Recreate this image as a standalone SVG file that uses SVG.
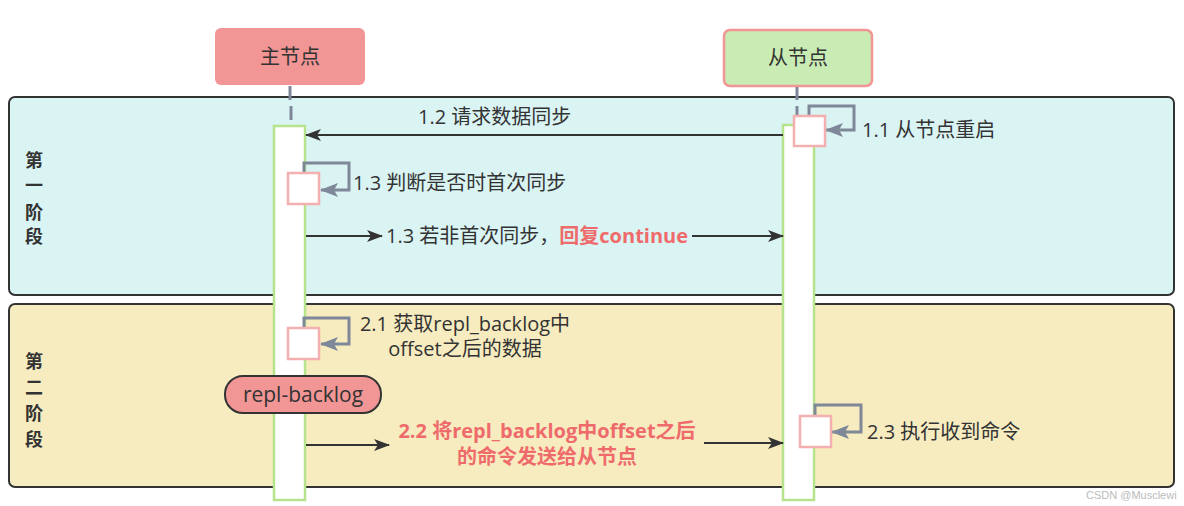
<svg xmlns="http://www.w3.org/2000/svg" width="1184" height="506" viewBox="0 0 1184 506">
<style>
text{font-family:"Open Sans","Noto Sans CJK SC",sans-serif;fill:#333;font-size:20px}
.ph{font-family:"Noto Sans CJK SC",sans-serif;font-weight:bold;font-size:18px;text-anchor:middle}
.red{fill:#ef6b6b;font-weight:bold}
.bar{fill:#fff;stroke:#b5e48c;stroke-width:2.5}
.self{fill:#fff;stroke:#f4b0b0;stroke-width:2.5}
.loop{fill:none;stroke:#7f8898;stroke-width:3}
.msg{fill:none;stroke:#333;stroke-width:2}
.life{stroke:#7f8898;stroke-width:3}
</style>
<defs>
<marker id="ah" markerWidth="16" markerHeight="12" refX="15" refY="6" orient="auto" markerUnits="userSpaceOnUse"><path d="M0,0 L16,6 L0,12 L4,6 Z" fill="#333"/></marker>
<marker id="gh" markerWidth="18" markerHeight="14" refX="17" refY="7" orient="auto" markerUnits="userSpaceOnUse"><path d="M0,0 L18,7 L0,14 L4,7 Z" fill="#7f8898"/></marker>
</defs>
<g id="phase1">
<rect x="9" y="97" width="1165" height="198" rx="6" fill="#daf3f3" stroke="#333" stroke-width="2"/>
<text class="ph"><tspan x="34" y="167">第</tspan><tspan x="34" y="192">一</tspan><tspan x="34" y="219">阶</tspan><tspan x="34" y="243">段</tspan></text>
</g>
<g id="phase2">
<rect x="9" y="304" width="1165" height="183" rx="6" fill="#f6ecc0" stroke="#333" stroke-width="2"/>
<text class="ph"><tspan x="34" y="368">第</tspan><tspan x="34" y="394">二</tspan><tspan x="34" y="420">阶</tspan><tspan x="34" y="446">段</tspan></text>
</g>
<g id="master">
<rect x="215" y="28" width="150" height="57" rx="6" fill="#f19595"/>
<text x="290" y="64" text-anchor="middle">主节点</text>
</g>
<g id="slave">
<rect x="724" y="30" width="148" height="56" rx="6" fill="#c9ecb4" stroke="#f19595" stroke-width="2.5"/>
<text x="798" y="65" text-anchor="middle">从节点</text>
</g>
<g id="lifelines">
<line class="life" x1="290" y1="86" x2="290" y2="100"/><line class="life" x1="291" y1="106" x2="291" y2="120"/>
<line class="life" x1="797" y1="87" x2="797" y2="100"/><line class="life" x1="797" y1="106" x2="797" y2="118"/>
</g>
<g id="master-bar"><rect class="bar" x="274" y="126" width="31" height="374"/></g>
<g id="slave-bar"><rect class="bar" x="783" y="125" width="31" height="375"/></g>
<g id="connectors">
<line class="msg" x1="783" y1="135" x2="306" y2="135" marker-end="url(#ah)"/>
<line class="msg" x1="306" y1="236" x2="382" y2="236" marker-end="url(#ah)"/>
<line class="msg" x1="692" y1="236" x2="783" y2="236" marker-end="url(#ah)"/>
<line class="msg" x1="306" y1="445" x2="389" y2="445" marker-end="url(#ah)"/>
<line class="msg" x1="704" y1="443" x2="783" y2="443" marker-end="url(#ah)"/>
<path class="loop" d="M809,116 V106 H854 V130 H826" marker-end="url(#gh)"/>
<path class="loop" d="M304,173 V163 H349 V190 H321" marker-end="url(#gh)"/>
<path class="loop" d="M304,328 V318 H349 V344 H321" marker-end="url(#gh)"/>
<path class="loop" d="M815,416 V405 H861 V432 H832" marker-end="url(#gh)"/>
</g>
<g id="self-11"><rect class="self" x="794" y="116" width="31" height="30"/></g>
<g id="self-13"><rect class="self" x="288" y="173" width="31" height="31"/></g>
<g id="self-21"><rect class="self" x="288" y="328" width="31" height="31"/></g>
<g id="self-23"><rect class="self" x="800" y="416" width="31" height="31"/></g>
<g id="repl-backlog">
<rect x="225" y="376" width="156" height="37" rx="18" fill="#f19595" stroke="#333" stroke-width="2"/>
<text x="303" y="402" text-anchor="middle" style="font-size:21px">repl-backlog</text>
</g>
<g id="labels">
<text x="418" y="124">1.2 请求数据同步</text>
<text x="862" y="137">1.1 从节点重启</text>
<text x="353" y="190">1.3 判断是否时首次同步</text>
<text x="386" y="243">1.3 若非首次同步，<tspan class="red">回复continue</tspan></text>
<text text-anchor="middle"><tspan x="465" y="331">2.1 获取repl_backlog中</tspan><tspan x="465" y="356">offset之后的数据</tspan></text>
<text class="red" text-anchor="middle"><tspan x="547" y="438">2.2 将repl_backlog中offset之后</tspan><tspan x="547" y="464">的命令发送给从节点</tspan></text>
<text x="867" y="439">2.3 执行收到命令</text>
<text x="1086" y="499" style="font-size:11px;fill:#bbb;font-family:'Liberation Sans',sans-serif">CSDN @Musclewi</text>
</g>
</svg>
